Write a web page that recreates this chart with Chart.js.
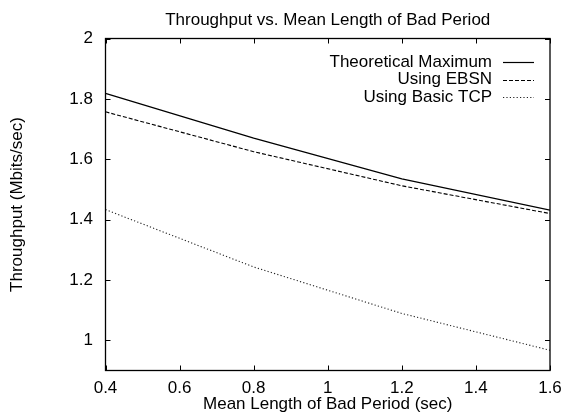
<!DOCTYPE html>
<html>
<head>
<meta charset="utf-8">
<script src="https://cdn.jsdelivr.net/npm/chart.js@4"></script>
<style>
  html, body { margin: 0; padding: 0; background: #fff; }
  #wrap { width: 562px; height: 415px; }
</style>
</head>
<body>
<div id="wrap"><canvas id="c" width="562" height="415"></canvas></div>
<script>
const xValues = [0.4, 0.8, 1.2, 1.6];
const theoretical = [1.818, 1.670, 1.535, 1.431];
const ebsn = [1.757, 1.625, 1.512, 1.420];
const basicTcp = [1.433, 1.243, 1.089, 0.967];

const seriesNames = ["Theoretical Maximum", "Using EBSN", "Using Basic TCP"];
const xTicks = [0.4, 0.6, 0.8, 1.0, 1.2, 1.4, 1.6];
const yTicks = [1.0, 1.2, 1.4, 1.6, 1.8, 2.0];
const chartTitle = "Throughput vs. Mean Length of Bad Period";

const FONT = "'Liberation Sans', Arial, Helvetica, sans-serif";
const pts = (ys) => xValues.map((x, i) => ({ x: x, y: ys[i] }));

// gnuplot style frame: box with inward ticks on all four sides
const framePlugin = {
  id: "frame",
  afterDatasetsDraw(chart) {
    const { ctx, chartArea: a, scales } = chart;
    ctx.save();
    ctx.strokeStyle = "#000";
    ctx.lineWidth = 1.3;
    ctx.strokeRect(a.left, a.top, a.right - a.left, a.bottom - a.top);
    ctx.lineWidth = 1;
    ctx.beginPath();
    scales.x.ticks.forEach(t => {
      const px = Math.round(scales.x.getPixelForValue(t.value)) + 0.5;
      ctx.moveTo(px, a.bottom); ctx.lineTo(px, a.bottom - 5);
      ctx.moveTo(px, a.top); ctx.lineTo(px, a.top + 5);
    });
    scales.y.ticks.forEach(t => {
      const py = Math.round(scales.y.getPixelForValue(t.value)) + 0.5;
      ctx.moveTo(a.left, py); ctx.lineTo(a.left + 5, py);
      ctx.moveTo(a.right, py); ctx.lineTo(a.right - 5, py);
    });
    ctx.stroke();
    ctx.restore();
  }
};

// title centred over the plot box, key in the top right corner
const textPlugin = {
  id: "texts",
  afterDraw(chart) {
    const { ctx, chartArea: a } = chart;
    ctx.save();
    ctx.font = "17px " + FONT;
    ctx.fillStyle = "#000";
    ctx.textAlign = "center";
    ctx.textBaseline = "middle";
    ctx.fillText(chartTitle, (a.left + a.right) / 2, 20.5);

    ctx.textAlign = "right";
    chart.data.datasets.forEach((ds, i) => {
      const y = a.top + 23.5 + i * 17.5;
      ctx.fillStyle = "#000";
      ctx.fillText(ds.label, a.right - 58, y);
      ctx.strokeStyle = ds.borderColor;
      ctx.lineWidth = ds.borderWidth;
      ctx.setLineDash(ds.borderDash || []);
      ctx.beginPath();
      ctx.moveTo(a.right - 47, Math.round(y) + 0.5);
      ctx.lineTo(a.right - 16, Math.round(y) + 0.5);
      ctx.stroke();
    });
    ctx.restore();
  }
};

const lineStyle = { fill: false, pointRadius: 0, tension: 0, borderColor: "#000", borderWidth: 1.2 };

new Chart(document.getElementById("c"), {
  type: "line",
  data: {
    datasets: [
      { ...lineStyle, label: seriesNames[0], data: pts(theoretical) },
      { ...lineStyle, label: seriesNames[1], data: pts(ebsn), borderDash: [4, 2], borderWidth: 1.1 },
      { ...lineStyle, label: seriesNames[2], data: pts(basicTcp), borderDash: [1.2, 2.2], borderWidth: 1.1, borderColor: "#222" }
    ]
  },
  options: {
    responsive: false,
    animation: false,
    layout: { padding: { left: 0, right: 12, top: 38.5, bottom: 0 } },
    plugins: {
      legend: { display: false },
      tooltip: { enabled: false },
      title: { display: false }
    },
    scales: {
      x: {
        type: "linear",
        min: 0.4,
        max: 1.6,
        grid: { display: false, drawTicks: false },
        border: { display: false },
        afterBuildTicks: (s) => { s.ticks = xTicks.map(v => ({ value: v })); },
        afterFit: (s) => { s.height = 44.5; s.paddingLeft = 0; s.paddingRight = 0; },
        ticks: {
          color: "#000",
          padding: 8,
          maxRotation: 0,
          font: { family: FONT, size: 17 },
          callback: (v) => String(Number(v.toFixed(1)))
        },
        title: {
          display: true,
          text: "Mean Length of Bad Period (sec)",
          color: "#000",
          font: { family: FONT, size: 17 },
          padding: { top: 0, bottom: 0 }
        }
      },
      y: {
        type: "linear",
        min: 0.9,
        max: 2,
        grid: { display: false, drawTicks: false },
        border: { display: false },
        afterBuildTicks: (s) => { s.ticks = yTicks.map(v => ({ value: v })); },
        afterFit: (s) => { s.width = 105.5; s.paddingTop = 0; s.paddingBottom = 0; },
        ticks: {
          color: "#000",
          padding: 12.5,
          font: { family: FONT, size: 17 },
          callback: (v) => String(Number(v.toFixed(1)))
        },
        title: {
          display: true,
          text: "Throughput (Mbits/sec)",
          color: "#000",
          font: { family: FONT, size: 17 },
          padding: { top: 7, bottom: 0 }
        }
      }
    }
  },
  plugins: [framePlugin, textPlugin]
});
</script>
</body>
</html>
